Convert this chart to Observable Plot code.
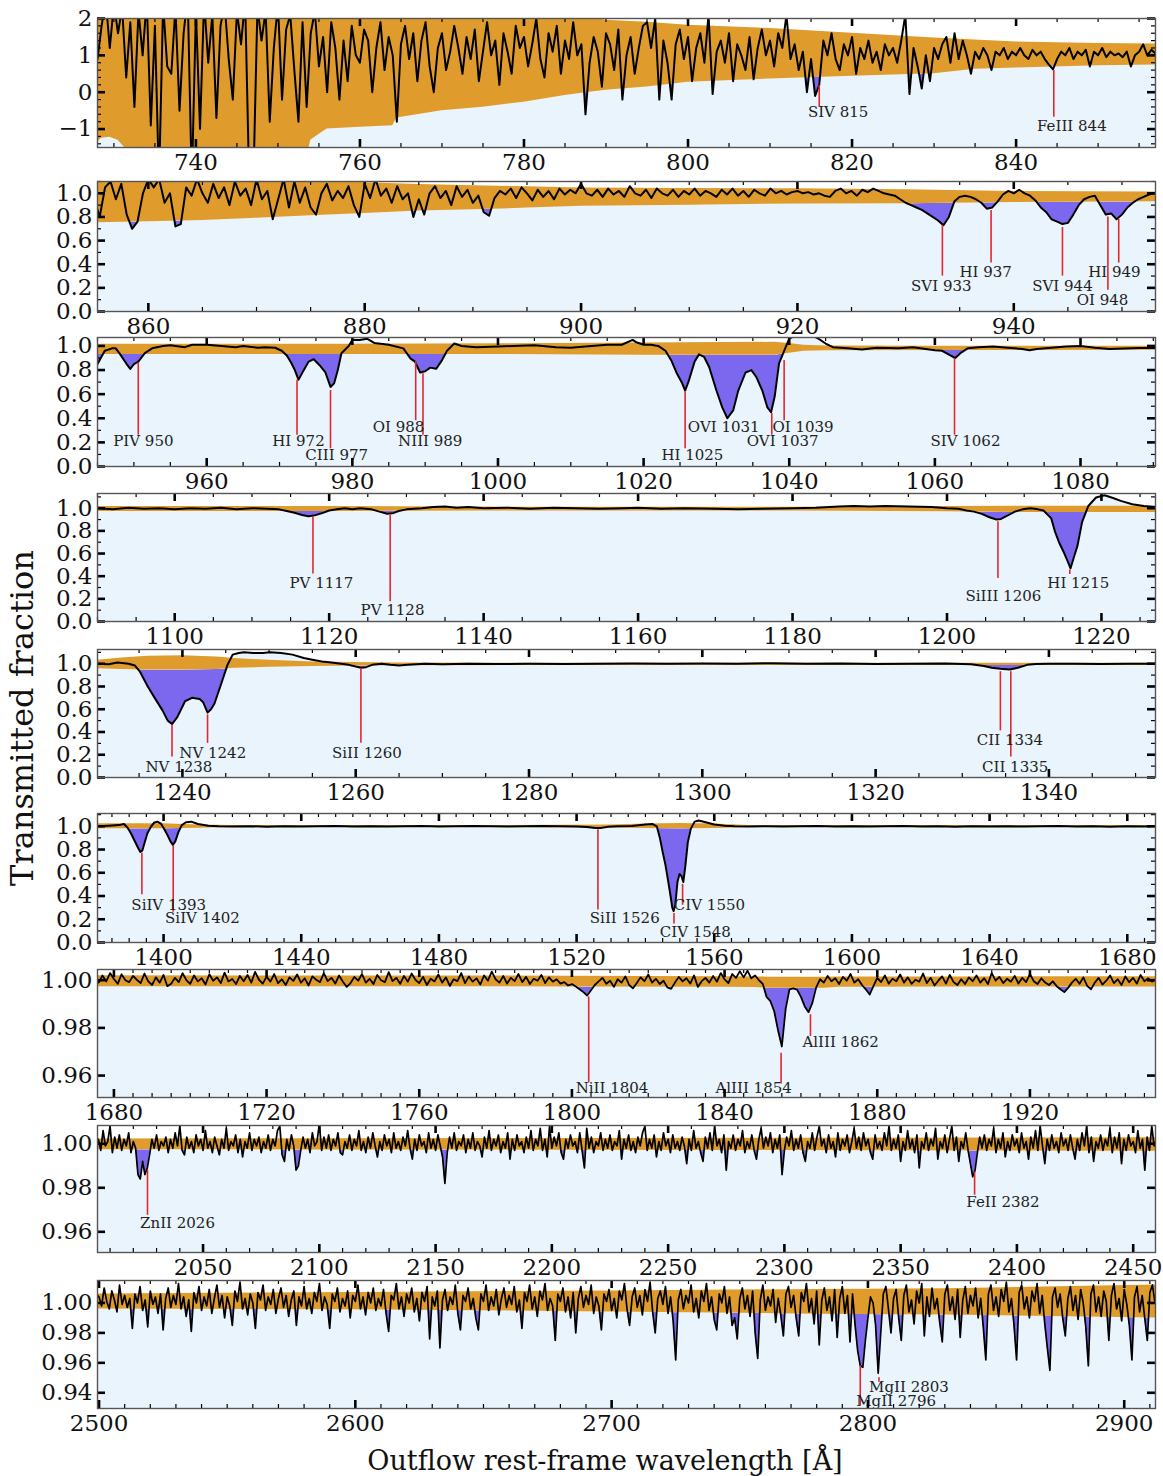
<!DOCTYPE html>
<html><head><meta charset="utf-8">
<script src="https://cdn.jsdelivr.net/npm/d3@7"></script>
<script src="https://cdn.jsdelivr.net/npm/@observablehq/plot@0.6"></script>
<style>
body{margin:0;background:#fff;}
#fig{position:relative;width:1163px;height:1476px;font-family:"DejaVu Serif",serif;overflow:hidden;background:#fff;}
.panel{position:absolute;left:0;}
#ylab{position:absolute;left:22px;top:718px;transform:translate(-50%,-50%) rotate(-90deg);font-size:32px;white-space:nowrap;color:#111;}
#xlab{position:absolute;left:605px;top:1460px;transform:translate(-50%,-50%);font-size:27px;white-space:nowrap;color:#111;}
</style></head>
<body><div id="fig"><div id="ylab">Transmitted fraction</div><div id="xlab">Outflow rest-frame wavelength [Å]</div></div>
<script>
// ---------------- DATA ----------------
// Panel 1: 728–857 Å, sampled every 0.5 Å
const p1Start = 728, p1Step = 0.5;
const p1Flux = [
0.9,1.8,2.5,1.2,2.4,1.6,2.3,0.4,1.9,-0.4,
2.2,1.0,2.5,-0.9,1.8,-2.5,2.4,0.7,0.5,2.3,
-0.5,1.6,2.6,-2.5,2.2,-1.0,2.5,0.8,2.1,-0.7,
1.8,2.4,0.9,-0.2,2.2,1.3,2.5,-2.5,-2.5,2.3,
1.4,2.2,-0.8,1.2,2.4,-0.2,1.7,2.1,0.6,-0.8,
1.9,-0.4,1.6,2.2,0.7,1.5,0.0,1.9,1.2,-0.2,
1.4,0.3,1.8,1.0,0.8,1.7,1.4,0.0,1.2,1.9,
0.6,1.5,1.0,-0.8,1.3,1.8,0.9,1.6,0.3,1.4,
1.9,0.7,0.0,1.2,1.6,0.6,1.1,1.8,1.2,0.5,
1.5,0.9,1.7,0.3,1.1,1.9,1.0,1.4,0.2,1.6,
1.1,0.5,1.8,1.2,1.5,0.7,1.3,2.0,0.9,0.4,
1.6,1.1,1.8,0.5,1.4,0.9,1.9,1.0,1.3,-0.6,
0.8,1.5,1.1,0.15,1.6,1.3,0.6,1.7,-0.2,1.0,
1.5,0.5,1.2,1.8,1.9,1.2,2.0,-0.2,1.4,0.8,
-0.2,1.3,1.7,0.9,1.5,0.3,1.2,1.6,0.8,2.1,
-0.05,1.1,1.4,0.8,1.6,0.3,1.3,1.0,0.6,1.5,
0.35,1.2,1.7,1.0,1.4,0.7,1.6,1.2,2.1,0.9,
1.3,0.6,1.1,0.0,0.9,-0.1,0.2,1.4,1.0,1.6,
0.9,0.6,1.3,1.0,1.5,0.5,1.2,0.9,1.4,0.8,
1.1,0.6,1.3,1.0,1.2,0.8,1.4,2.1,-0.05,1.2,
0.7,0.1,1.0,0.3,1.2,0.9,1.3,1.5,0.8,1.6,
0.9,1.4,1.0,0.5,1.1,0.9,1.2,1.0,0.6,1.1,
1.0,1.2,0.9,1.1,1.0,1.2,1.0,0.9,1.15,1.0,
1.1,0.9,0.75,0.62,0.9,1.1,1.0,1.2,0.9,1.1,
1.0,1.15,0.7,1.1,1.0,1.2,0.95,1.1,1.0,1.05,
0.95,1.1,0.7,1.0,1.1,1.3,1.0,1.15,1.05];
// [wavelength, lower edge, upper edge] of the orange band
const p1Band = [[728,-1.35,2.5],[728.5,-1.25,2.5],[729.5,-1.22,2.5],[730.5,-1.3,2.5],[731.3,-1.5,2.5],[731.8,-1.8,2.5],[753.5,-1.8,2.5],[754,-1.3,2.5],[755,-1.15,2.5],[756,-1.0,2.5],[760,-0.95,2.5],[764,-0.91,2.5],[764.5,-0.7,2.5],[770,-0.5,2.5],[775,-0.41,2.5],[780,-0.27,2.4],[785,-0.09,2.2],[788,0.0,2.05],[790,0.05,1.95],[795,0.14,1.9],[800,0.27,1.82],[810,0.36,1.73],[820,0.43,1.6],[830,0.5,1.47],[835,0.62,1.42],[840,0.66,1.36],[850,0.72,1.32],[857,0.74,1.31]];
const p1Labels = [
 {name:"SIV 815", w:816.0, top:0.18, bot:-0.41, tx:818.3, ty:-0.55},
 {name:"FeIII 844", w:844.6, top:0.59, bot:-0.68, tx:846.8, ty:-0.91}];
const p1XTicks = [740,760,780,800,820,840];
const p1YTicks = [-1,0,1,2];

// Panel 2: 855–953.5 Å, every 0.5 Å
const p2Start = 855.0, p2Step = 0.5;
const p2Flux = [
0.95,
0.80,1.05,1.10,0.95,1.08,0.82,0.70,0.76,1.0,1.12,
1.05,1.12,0.92,1.0,0.72,0.74,1.05,0.98,1.12,1.0,
0.92,1.08,0.96,1.05,0.9,1.1,0.98,1.04,0.9,1.12,
0.95,1.02,0.78,0.95,1.12,0.88,1.1,0.92,1.05,0.88,
0.82,1.0,1.08,0.94,1.02,0.96,1.06,0.9,0.80,1.08,
0.96,1.12,0.98,1.04,0.92,1.06,0.95,1.0,0.80,0.95,
0.82,1.0,1.06,0.96,1.02,0.9,1.06,0.97,1.03,0.92,
0.98,0.84,0.81,0.96,1.02,0.99,1.04,0.96,1.05,1.0,
0.94,1.03,0.97,1.02,0.95,1.04,0.99,1.03,1.0,1.08,
1.0,0.98,1.03,0.97,1.04,0.99,1.02,0.97,1.06,1.0,
0.98,1.03,0.96,1.04,1.0,0.98,1.03,0.97,1.02,0.99,
1.04,0.98,1.02,1.0,0.97,1.03,0.99,1.04,0.98,1.02,
0.97,1.03,1.0,0.98,1.04,1.0,1.02,0.99,1.01,1.02,
1.0,1.01,0.99,1.0,0.98,0.97,1.02,1.04,1.0,1.02,
0.98,1.03,1.01,1.04,1.02,1.0,0.99,0.98,0.95,0.92,
0.9,0.88,0.86,0.83,0.8,0.77,0.73,0.8,0.93,0.97,
0.98,0.97,0.95,0.92,0.87,0.88,0.93,0.99,1.02,1.0,
1.03,1.0,0.98,0.94,0.88,0.84,0.78,0.76,0.74,0.75,
0.82,0.9,0.95,0.97,0.98,0.9,0.82,0.83,0.78,0.82,
0.88,0.92,0.95,0.97,0.99,1.0,1.01];
const p2Band = [[855.0,0.75,1.2],[860,0.76,1.19],[865,0.77,1.17],[870,0.79,1.15],[875,0.81,1.12],[880,0.83,1.09],[885,0.85,1.075],[890,0.86,1.065],[895,0.875,1.055],[900,0.89,1.045],[910,0.9,1.04],[920,0.91,1.038],[930,0.912,1.03],[940,0.922,1.015],[953.5,0.928,1.01]];
const p2Labels = [
 {name:"SVI 933", w:933.4, top:0.728, bot:0.30, tx:933.3, ty:0.215},
 {name:"HI 937", w:937.9, top:0.855, bot:0.41, tx:937.4, ty:0.33},
 {name:"SVI 944", w:944.5, top:0.71, bot:0.30, tx:944.5, ty:0.215},
 {name:"OI 948", w:948.7, top:0.80, bot:0.18, tx:948.2, ty:0.095},
 {name:"HI 949", w:949.7, top:0.78, bot:0.41, tx:949.3, ty:0.33}];
const p2XTicks = [860,880,900,920,940];

// Panel 3: [wavelength, flux]
const p3Spec = [[945,0.85],[946,0.96],[947,0.98],[947.5,0.98],[948,0.94],[949,0.85],[949.5,0.81],[950,0.85],[950.6,0.87],[951.5,0.94],[952.5,0.98],[954,1.0],[955,1.005],[957,0.99],[958,1.01],[960,1.01],[962,1.0],[964,0.99],[965,1.0],[967,0.985],[968,0.99],[969.4,0.985],[970.3,0.96],[971,0.92],[971.6,0.86],[972.1,0.8],[972.6,0.72],[973.2,0.785],[974,0.87],[974.7,0.89],[975.5,0.84],[976.3,0.78],[977,0.66],[977.5,0.69],[978,0.8],[978.5,0.94],[979.5,1.0],[980,1.05],[981,1.05],[982,1.06],[983,1.025],[985,1.01],[987,0.98],[988,0.895],[988.6,0.87],[989.3,0.78],[990,0.79],[990.7,0.82],[991.5,0.81],[992.3,0.88],[993,0.96],[994,1.02],[995,1.0],[997,0.99],[1000,0.995],[1002,1.0],[1005,1.005],[1008,0.99],[1010,0.985],[1012,0.995],[1015,1.01],[1017,1.01],[1018.5,1.05],[1019,1.03],[1020,1.01],[1021,1.01],[1022,1.0],[1023,0.96],[1023.8,0.88],[1024.5,0.78],[1025.3,0.69],[1025.7,0.63],[1026.2,0.71],[1027,0.87],[1027.6,0.93],[1028.3,0.91],[1029,0.825],[1030,0.63],[1030.8,0.49],[1031.5,0.4],[1032.3,0.465],[1033,0.63],[1034,0.78],[1034.8,0.8],[1035.5,0.74],[1036.3,0.63],[1037,0.49],[1037.5,0.45],[1038,0.58],[1038.6,0.855],[1039.3,0.96],[1040,1.06],[1041,1.09],[1043,1.09],[1044,1.06],[1045,1.02],[1046,0.99],[1048,0.98],[1050,0.97],[1052,0.985],[1055,0.98],[1057,0.99],[1060,0.965],[1061,0.96],[1062,0.925],[1062.8,0.9],[1063.5,0.94],[1064.5,0.98],[1066,0.99],[1068,0.995],[1070,0.985],[1072,0.975],[1073,0.965],[1074,0.975],[1076,0.985],[1078,0.995],[1080,1.0],[1082,0.985],[1084,0.975],[1086,0.978],[1088,0.982],[1090.3,0.982]];
const p3Band = [[945,0.93,1.015],[960,0.93,1.015],[980,0.93,1.015],[1000,0.93,1.018],[1020,0.922,1.025],[1038,0.922,1.03],[1040,0.94,1.02],[1042,0.955,1.005],[1045,0.96,1.0],[1060,0.962,0.998],[1090.3,0.965,0.998]];
const p3Labels = [
 {name:"PIV 950", w:950.6, top:0.86, bot:0.26, tx:951.3, ty:0.21},
 {name:"HI 972", w:972.4, top:0.715, bot:0.26, tx:972.6, ty:0.21},
 {name:"CIII 977", w:977.0, top:0.63, bot:0.147, tx:977.85, ty:0.092},
 {name:"OI 988", w:988.7, top:0.87, bot:0.38, tx:986.35, ty:0.328},
 {name:"NIII 989", w:989.7, top:0.77, bot:0.26, tx:990.7, ty:0.21},
 {name:"HI 1025", w:1025.7, top:0.62, bot:0.147, tx:1026.7, ty:0.092},
 {name:"OVI 1031", w:1031.5, top:0.39, bot:0.39, tx:1031.0, ty:0.328},
 {name:"OVI 1037", w:1037.6, top:0.44, bot:0.26, tx:1039.1, ty:0.21},
 {name:"OI 1039", w:1039.3, top:0.88, bot:0.38, tx:1041.9, ty:0.328},
 {name:"SIV 1062", w:1062.7, top:0.895, bot:0.26, tx:1064.2, ty:0.21}];
const p3XTicks = [960,980,1000,1020,1040,1060,1080];

// Panel 4
const p4Spec = [[1090,1.0],[1092,0.99],[1094,1.005],[1096,0.995],[1098,1.0],[1100,0.99],[1102,1.0],[1104,0.995],[1106,1.005],[1108,0.99],[1110,1.0],[1112,0.995],[1113.5,0.99],[1114.5,0.975],[1115.5,0.96],[1116.5,0.94],[1117.3,0.93],[1118,0.935],[1119,0.955],[1120,0.98],[1121,0.99],[1122,1.0],[1123,0.99],[1124,1.0],[1125.5,0.99],[1126.5,0.97],[1127.5,0.952],[1128.2,0.955],[1129,0.975],[1130,0.99],[1132,1.0],[1133.5,1.01],[1135,1.015],[1136.5,1.005],[1138,1.01],[1140,1.0],[1143,1.005],[1146,0.995],[1149,1.005],[1152,1.0],[1155,0.995],[1158,1.0],[1160,1.005],[1163,0.995],[1166,1.0],[1170,0.995],[1173,0.99],[1176,0.995],[1180,1.0],[1183,1.005],[1186,1.015],[1188,1.02],[1190,1.015],[1192,1.02],[1195,1.015],[1198,1.01],[1200,1.0],[1201.5,0.995],[1202.5,0.98],[1203.5,0.97],[1204.5,0.95],[1205.5,0.92],[1206.4,0.9],[1207,0.905],[1207.8,0.935],[1208.8,0.97],[1209.8,0.99],[1210.8,1.0],[1211.8,0.99],[1212.5,0.98],[1213.5,0.91],[1214,0.79],[1214.5,0.7],[1215.2,0.6],[1215.7,0.52],[1216,0.47],[1216.4,0.56],[1216.9,0.67],[1217.5,0.88],[1218.3,1.02],[1219.3,1.095],[1220.4,1.115],[1221.5,1.09],[1222.5,1.065],[1224,1.035],[1225.5,1.02],[1227,1.01]];
const p4Band = [[1090,0.972,1.015],[1120,0.972,1.015],[1140,0.975,1.01],[1160,0.976,1.008],[1180,0.976,1.008],[1200,0.968,1.015],[1210,0.962,1.018],[1227,0.962,1.018]];
const p4Labels = [
 {name:"PV 1117", w:1117.9, top:0.92, bot:0.42, tx:1119.0, ty:0.336},
 {name:"PV 1128", w:1127.9, top:0.94, bot:0.175, tx:1128.2, ty:0.097},
 {name:"SiIII 1206", w:1206.6, top:0.88, bot:0.38, tx:1207.3, ty:0.225},
 {name:"HI 1215", w:1215.9, top:0.455, bot:0.415, tx:1217.0, ty:0.336}];
const p4XTicks = [1100,1120,1140,1160,1180,1200,1220];

// Panel 5
const p5Spec = [[1230.2,1.0],[1231.5,0.995],[1232.5,1.01],[1233.8,1.0],[1234.5,0.985],[1235.1,0.93],[1236,0.8],[1236.8,0.7],[1237.7,0.59],[1238.3,0.5],[1238.8,0.47],[1239.4,0.53],[1240.3,0.67],[1241.1,0.7],[1241.6,0.695],[1242,0.69],[1242.4,0.66],[1242.9,0.57],[1243.3,0.6],[1243.7,0.65],[1244.5,0.83],[1245.2,0.99],[1245.8,1.08],[1246.5,1.095],[1247.1,1.1],[1248.2,1.095],[1249.3,1.095],[1250.1,1.1],[1251.4,1.095],[1252.7,1.08],[1254,1.05],[1255,1.035],[1256.1,1.02],[1257.2,1.01],[1258.3,1.0],[1259.2,0.99],[1260,0.975],[1260.6,0.965],[1261.2,0.97],[1261.9,0.99],[1263,1.0],[1264,0.99],[1265,0.985],[1266,0.99],[1268,1.0],[1270,0.995],[1273,1.0],[1276,0.997],[1280,1.0],[1284,0.997],[1288,1.0],[1292,1.003],[1296,1.0],[1300,1.003],[1304,1.0],[1308,1.005],[1312,1.0],[1316,1.003],[1320,0.998],[1324,1.0],[1328,1.002],[1331,0.995],[1332.5,0.98],[1333.4,0.965],[1334.4,0.955],[1335.5,0.95],[1336.4,0.965],[1337.5,0.99],[1338.5,0.998],[1340,1.0],[1343,1.0],[1346,0.998],[1349,1.0],[1352.3,1.0]];
const p5Band = [[1230.2,0.955,1.03],[1233,0.95,1.05],[1236,0.945,1.065],[1240,0.945,1.07],[1244,0.95,1.06],[1246,0.96,1.045],[1250,0.968,1.03],[1255,0.975,1.015],[1260,0.98,1.01],[1265,0.983,1.006],[1280,0.984,1.005],[1352.3,0.984,1.005]];
const p5Labels = [
 {name:"NV 1238", w:1238.8, top:0.46, bot:0.18, tx:1239.6, ty:0.088},
 {name:"NV 1242", w:1242.9, top:0.55, bot:0.30, tx:1243.5, ty:0.21},
 {name:"SiII 1260", w:1260.6, top:0.955, bot:0.30, tx:1261.3, ty:0.21},
 {name:"CII 1334", w:1334.4, top:0.93, bot:0.41, tx:1335.5, ty:0.325},
 {name:"CII 1335", w:1335.6, top:0.93, bot:0.18, tx:1336.1, ty:0.088}];
const p5XTicks = [1240,1260,1280,1300,1320,1340];

// Panel 6
const p6Spec = [[1380.8,1.0],[1384,1.005],[1387,1.01],[1388.5,1.02],[1389.5,0.99],[1390.5,0.94],[1391.5,0.88],[1392.5,0.82],[1393.2,0.78],[1393.8,0.79],[1394.5,0.86],[1395.3,0.94],[1396.2,0.99],[1397.2,1.03],[1398.2,1.04],[1399.3,1.02],[1400.3,0.97],[1401.2,0.92],[1402,0.87],[1402.7,0.84],[1403.4,0.87],[1404.3,0.95],[1405.3,1.01],[1406.5,1.035],[1408,1.04],[1410,1.02],[1413,1.005],[1416,1.0],[1420,0.998],[1425,1.0],[1430,0.997],[1435,1.0],[1440,0.998],[1445,1.0],[1450,1.002],[1455,0.998],[1460,1.0],[1465,0.998],[1470,1.0],[1475,1.002],[1480,0.998],[1485,1.0],[1490,1.002],[1495,1.0],[1500,0.998],[1505,1.0],[1510,1.002],[1515,1.0],[1520,0.998],[1523,0.993],[1525.5,0.985],[1527,0.986],[1529,0.995],[1532,1.0],[1536,1.003],[1540,1.015],[1542,1.02],[1543.3,1.0],[1544.2,0.9],[1545,0.78],[1545.8,0.67],[1546.6,0.53],[1547.3,0.4],[1547.8,0.3],[1548.2,0.27],[1548.7,0.33],[1549.3,0.52],[1549.9,0.59],[1550.5,0.57],[1551,0.52],[1551.6,0.66],[1552.3,0.86],[1553.2,0.98],[1554.3,1.04],[1555.5,1.05],[1557.5,1.035],[1560,1.015],[1563,1.005],[1566,1.0],[1570,0.998],[1575,1.0],[1580,0.998],[1585,1.0],[1590,1.002],[1595,0.998],[1600,1.0],[1605,0.998],[1610,1.0],[1615,1.002],[1620,0.998],[1625,1.0],[1630,0.997],[1635,1.0],[1640,0.998],[1645,1.0],[1650,0.998],[1655,1.0],[1660,1.002],[1665,0.998],[1670,1.0],[1675,0.997],[1680,1.0],[1685,0.998],[1688.2,1.0]];
const p6Band = [[1380.8,0.978,1.022],[1400,0.978,1.022],[1410,0.984,1.012],[1420,0.99,1.006],[1500,0.99,1.006],[1530,0.986,1.01],[1540,0.98,1.02],[1550,0.978,1.025],[1560,0.98,1.02],[1570,0.99,1.006],[1688.2,0.99,1.006]];
const p6Labels = [
 {name:"SiIV 1393", w:1393.7, top:0.77, bot:0.41, tx:1401.5, ty:0.325},
 {name:"SiIV 1402", w:1402.8, top:0.83, bot:0.26, tx:1411.3, ty:0.205},
 {name:"SiII 1526", w:1526.2, top:0.97, bot:0.28, tx:1534.0, ty:0.205},
 {name:"CIV 1548", w:1548.3, top:0.25, bot:0.16, tx:1554.5, ty:0.085},
 {name:"CIV 1550", w:1550.8, top:0.5, bot:0.32, tx:1558.6, ty:0.325}];
const p6XTicks = [1400,1440,1480,1520,1560,1600,1640,1680];

// Panel 7: 1675–1953 Å, every 1 Å
const p7Start = 1675, p7Step = 1;
const p7Flux = [
1.0010,
0.9990,1.0020,0.9995,1.0030,1.0005,0.9985,1.0025,1.0000,0.9992,1.0018,
1.0002,0.9988,1.0028,0.9995,0.9980,1.0012,0.9990,1.0022,0.9975,0.9985,
1.0010,0.9992,1.0030,1.0000,0.9985,1.0020,0.9995,1.0008,0.9982,1.0025,
0.9998,1.0012,0.9988,1.0032,0.9995,1.0005,0.9984,1.0018,0.9996,1.0022,
0.9990,1.0035,1.0002,0.9986,1.0015,0.9994,1.0026,0.9988,1.0004,0.9980,
1.0012,0.9997,1.0024,0.9990,1.0008,0.9978,1.0016,1.0002,0.9992,1.0030,
0.9996,1.0010,0.9986,1.0020,0.9994,0.9972,0.9988,1.0014,0.9998,1.0026,
0.9990,1.0006,0.9984,1.0022,1.0000,0.9992,1.0034,0.9996,1.0010,0.9985,
1.0018,0.9994,1.0028,1.0002,0.9988,1.0014,0.9980,1.0006,0.9995,1.0024,
0.9990,1.0012,0.9976,1.0004,0.9996,1.0030,0.9988,1.0016,0.9994,1.0008,
0.9982,1.0020,0.9998,1.0036,1.0004,0.9990,1.0018,0.9986,1.0010,0.9996,
1.0026,0.9992,1.0014,0.9984,1.0006,0.9998,1.0022,0.9988,1.0012,0.9994,
1.0004,0.9986,0.9992,0.9978,0.9984,0.9974,0.9962,0.9950,0.9936,0.9958,
0.9980,0.9995,1.0010,0.9985,0.9998,0.9972,1.0004,0.9990,1.0016,0.9980,
0.9966,0.9988,1.0012,0.9996,1.0024,0.9990,1.0006,0.9984,0.9998,0.9970,
0.9964,0.9990,1.0014,0.9995,1.0008,0.9986,1.0020,0.9972,0.9996,1.0010,
0.9990,1.0018,0.9994,1.0030,1.0004,0.9988,1.0026,1.0010,1.0038,1.0012,
1.0040,1.0008,1.0020,1.0000,0.9985,0.9930,0.9912,0.9870,0.9790,0.9722,
0.9880,0.9962,0.9966,0.9960,0.9930,0.9890,0.9866,0.9905,0.9970,1.0004,
0.9990,1.0018,0.9996,1.0008,0.9984,1.0014,0.9998,1.0026,0.9990,1.0004,
0.9980,0.9962,0.9940,0.9975,1.0010,0.9992,1.0020,0.9986,1.0006,0.9996,
1.0024,0.9990,1.0012,0.9985,1.0002,0.9994,1.0028,0.9988,1.0010,0.9978,
0.9998,1.0016,0.9986,1.0022,0.9992,0.9980,1.0004,0.9984,1.0012,0.9996,
1.0020,0.9990,1.0008,0.9984,1.0030,0.9998,1.0014,0.9988,1.0006,0.9994,
1.0018,0.9986,1.0010,0.9992,1.0026,0.9996,0.9984,1.0008,0.9990,0.9980,
0.9995,0.9975,0.9962,0.9950,0.9968,0.9990,1.0006,0.9985,1.0012,0.9976,
0.9962,0.9990,1.0010,0.9982,0.9998,1.0020,0.9988,1.0004,0.9980,1.0016,
0.9992,1.0010,0.9986,1.0022,0.9996,1.0008,0.9994,1.0004];
const p7Band = [[1675,0.9973,1.0019],[1720,0.9973,1.0018],[1760,0.9973,1.0018],[1800,0.9972,1.0017],[1840,0.9971,1.0015],[1848,0.9969,1.0014],[1852,0.9966,1.0013],[1866,0.9966,1.0013],[1870,0.9971,1.0014],[1900,0.9972,1.0014],[1953,0.9972,1.0015]];
const p7Labels = [
 {name:"NiII 1804", w:1804.4, top:0.993, bot:0.957, tx:1810.5, ty:0.9546},
 {name:"AlIII 1854", w:1854.8, top:0.9694, bot:0.9565, tx:1847.6, ty:0.9546},
 {name:"AlIII 1862", w:1862.5, top:0.9855, bot:0.9764, tx:1870.4, ty:0.9742}];
const p7XTicks = [1680,1720,1760,1800,1840,1880,1920];
const p7YTicks = [0.96,0.98,1.00];

// Panel 8: 2004–2460 Å, every 1 Å
const p8Start = 2004, p8Step = 1;
const p8Flux = [
1.001,
1.002,0.997,1.006,0.999,1.001,1.008,0.996,1.003,0.998,1.004,
0.997,1.002,0.999,1.005,0.996,1.001,0.998,0.986,0.984,0.992,
0.986,0.989,0.995,1.002,0.998,1.004,0.997,1.001,0.999,1.003,
0.996,1.002,0.998,1.005,0.999,1.008,0.997,0.995,1.003,0.998,
1.001,0.996,1.004,0.999,1.002,0.997,1.006,0.998,1.001,0.996,
1.003,0.999,0.995,1.002,0.998,1.007,0.997,1.001,0.999,1.004,
0.996,1.002,0.994,1.001,0.998,1.005,0.997,1.002,0.999,1.003,
0.996,1.001,0.998,1.004,0.997,1.002,0.999,1.006,1.008,0.995,
0.992,1.002,0.997,1.004,0.999,0.988,0.990,0.997,1.003,0.998,
1.002,0.996,1.005,0.999,1.001,1.009,0.997,1.003,0.998,1.004,
0.997,1.002,0.999,1.005,0.996,0.995,1.001,0.998,1.004,0.997,
1.002,0.999,1.006,0.997,1.001,0.996,1.003,0.998,1.005,0.999,
0.994,1.001,0.997,1.004,0.999,1.002,0.996,1.005,0.998,1.001,
0.997,1.003,0.999,1.006,0.998,0.993,1.002,0.997,1.004,0.999,
1.001,0.996,1.005,0.998,1.002,0.997,1.004,0.999,0.994,0.982,
0.996,1.003,0.998,1.005,0.997,1.001,0.999,1.004,0.996,1.002,
0.998,1.005,0.997,1.001,0.999,0.994,1.003,0.998,1.006,0.997,
1.002,0.999,1.004,0.996,1.001,0.998,1.005,0.993,1.002,0.997,
1.004,0.999,1.001,0.996,1.003,0.998,1.006,0.997,1.002,0.999,
1.007,0.997,1.002,0.994,1.008,0.998,1.003,0.999,1.005,0.996,
0.993,1.002,0.998,1.004,0.999,1.001,0.996,1.005,0.997,0.989,
1.007,0.998,1.003,0.996,1.001,0.999,1.005,0.997,1.002,0.998,
1.004,0.997,1.001,0.999,1.006,0.993,1.002,0.998,1.004,0.997,
1.001,0.996,1.003,0.999,1.005,1.008,0.997,1.002,0.998,1.004,
0.994,1.001,0.997,1.005,0.999,1.002,0.996,1.004,0.998,1.001,
0.997,1.003,0.999,0.991,1.002,0.997,1.006,0.998,1.001,0.996,
0.992,1.003,0.998,1.005,0.997,1.008,0.999,1.002,0.996,1.004,
0.988,1.001,0.998,1.004,0.997,1.002,0.999,1.006,0.996,1.001,
0.998,1.004,0.997,0.993,1.002,1.007,0.998,1.003,0.999,1.005,
0.996,1.002,0.998,1.004,0.986,0.997,1.003,0.999,1.006,0.997,
1.002,0.998,1.004,0.996,0.992,1.001,0.998,1.005,0.997,1.003,
1.008,0.999,1.002,0.996,1.004,0.998,1.001,0.994,1.005,0.997,
1.002,0.999,1.004,0.996,1.001,1.007,0.998,1.003,0.997,1.005,
0.999,1.002,0.996,0.993,1.004,0.998,1.001,0.997,1.005,0.999,
1.008,0.997,1.002,0.998,1.004,0.992,1.001,0.997,1.006,0.998,
1.002,0.996,1.004,0.989,1.001,0.998,1.005,0.997,1.002,0.999,
1.007,0.993,1.001,0.998,1.004,0.996,1.002,1.008,0.997,1.003,
0.992,1.001,0.998,1.005,0.997,0.991,0.985,0.988,0.996,1.003,
0.998,1.004,0.997,1.002,0.999,1.007,0.996,1.002,0.998,1.005,
0.994,1.001,0.997,1.004,0.999,1.002,0.996,1.005,0.998,1.001,
0.993,1.003,0.998,1.006,0.997,1.008,0.999,0.991,1.002,0.997,
1.004,0.998,1.001,0.996,1.005,0.999,1.002,0.997,1.004,0.998,
0.993,1.002,0.997,1.005,0.999,1.008,0.996,1.003,0.992,1.001,
0.998,1.004,0.997,1.002,0.999,1.007,0.996,1.003,0.998,1.005,
0.991,1.002,0.997,1.004,0.999,1.001,0.996,1.006,0.998,1.002,
0.988,1.003,0.997,1.008,0.999,1.002];
const p8Band = [[2004,0.9973,1.0022],[2100,0.9972,1.0023],[2200,0.9971,1.0024],[2300,0.9969,1.0025],[2400,0.9967,1.0026],[2460,0.9966,1.0027]];
const p8Labels = [
 {name:"ZnII 2026", w:2026.1, top:0.988, bot:0.9675, tx:2039.0, ty:0.9638},
 {name:"FeII 2382", w:2381.8, top:0.987, bot:0.9766, tx:2394.0, ty:0.9733}];
const p8XTicks = [2050,2100,2150,2200,2250,2300,2350,2400,2450];
const p8YTicks = [0.96,0.98,1.00];

// Panel 9: 2499–2913 Å, every 1 Å
const p9Start = 2499, p9Step = 1;
const p9Flux = [
1.006,
1.004,0.998,1.010,1.001,0.996,1.008,1.002,0.994,1.012,0.999,
1.005,0.997,1.003,0.983,1.006,1.000,1.011,0.995,1.002,0.984,
1.008,0.999,1.004,0.993,1.006,0.982,1.003,1.010,0.997,1.005,
0.999,1.013,0.996,1.004,0.991,1.002,0.981,1.007,1.000,1.011,
0.995,1.004,0.998,1.009,0.993,1.003,1.012,0.997,1.005,0.990,
1.004,0.998,0.985,1.008,1.001,1.014,0.996,1.003,0.992,1.006,
1.000,0.983,1.007,1.002,1.012,0.995,1.004,0.999,1.009,0.993,
1.003,1.010,0.997,1.005,0.991,1.002,1.008,0.985,1.004,0.998,
1.011,0.996,1.003,0.993,1.007,1.001,1.013,0.995,1.004,0.999,
0.983,1.006,1.001,1.010,0.994,1.003,0.998,1.008,0.990,1.005,
1.001,1.012,0.996,1.004,0.992,1.007,1.000,1.010,0.995,1.003,
0.998,1.009,0.993,0.981,1.005,1.002,1.013,0.996,1.004,0.991,
1.006,1.000,1.010,0.994,1.003,0.988,1.007,1.001,1.011,0.976,
1.004,0.998,1.008,0.970,1.002,1.009,0.995,1.004,0.999,1.012,
0.993,0.982,1.005,1.001,1.010,0.996,1.003,0.990,0.982,1.006,
1.001,1.012,0.995,1.004,0.998,1.009,0.992,1.003,1.010,0.997,
1.005,0.999,1.011,0.994,1.002,0.983,1.007,1.001,1.012,0.996,
1.004,0.991,1.008,1.002,1.013,0.995,1.003,0.998,0.975,1.006,
1.001,1.010,0.994,1.004,0.990,1.007,0.980,1.003,1.011,0.997,
1.005,0.999,1.012,0.993,1.004,0.998,0.982,1.006,1.001,1.009,
0.995,1.003,0.990,1.008,1.002,1.013,0.996,0.985,1.004,1.010,
0.997,1.005,0.992,1.009,1.001,1.014,0.994,0.980,1.003,1.008,
0.999,1.011,0.993,1.004,0.988,0.962,1.002,1.009,0.996,1.005,
1.000,1.012,0.994,1.003,0.990,1.008,1.001,1.013,0.995,1.004,
0.989,0.982,1.006,1.000,1.011,0.993,1.004,0.985,0.990,0.976,
1.003,1.010,0.996,1.005,0.991,1.008,0.980,0.963,1.002,1.012,
0.995,1.004,0.998,1.009,0.987,1.003,0.992,0.978,1.006,1.011,
0.997,1.005,0.990,0.978,1.007,1.001,1.013,0.994,1.003,0.986,
1.008,0.972,1.002,1.010,0.995,1.004,0.988,1.009,0.977,1.003,
1.011,0.993,1.005,0.974,1.006,0.985,0.968,0.958,0.957,0.975,
0.990,1.004,1.000,0.985,0.953,0.980,1.006,1.011,0.996,0.980,
1.003,1.009,0.990,0.975,1.005,1.012,0.994,1.002,0.986,1.008,
1.000,1.013,0.978,1.004,0.991,1.010,0.996,1.003,0.987,0.974,
1.006,1.012,0.995,1.004,0.989,1.009,0.977,1.002,1.011,0.993,
1.005,0.998,1.010,0.990,1.003,0.984,0.962,1.006,1.012,0.995,
1.004,0.991,1.009,1.001,1.014,0.994,1.003,0.985,0.962,1.007,
1.012,0.996,1.004,0.990,1.008,1.001,1.013,0.993,1.005,0.986,
0.970,0.955,1.004,1.010,0.997,1.006,0.990,0.978,1.003,1.011,
0.995,1.005,0.989,1.009,1.000,0.984,0.958,1.006,1.012,0.994,
1.004,0.991,1.008,1.001,0.975,1.005,1.013,0.996,1.003,0.988,
1.009,0.999,0.985,0.962,1.004,1.011,0.994,1.005,0.990,0.975,
1.007,1.012,1.000,1.004];
const p9Band = [[2499,0.996,1.006],[2600,0.9955,1.007],[2700,0.994,1.008],[2780,0.9925,1.009],[2830,0.992,1.0095],[2913,0.990,1.012]];
const p9Labels = [
 {name:"MgII 2796", w:2797.0, top:0.958, bot:0.9315, tx:2811.0, ty:0.9345},
 {name:"MgII 2803", w:2804.3, top:0.95, bot:0.947, tx:2816.0, ty:0.9440}];
const p9XTicks = [2500,2600,2700,2800,2900];
const p9YTicks = [0.94,0.96,0.98,1.00];

const fracYTicks = [0,0.2,0.4,0.6,0.8,1.0];

// ---------------- DRAWING ----------------
const PURPLE = "#7b68ee", ORANGE = "#df9c2c", LIGHT = "#e9f4fc", RED = "#e3262f";
const W = 1163, ML = 97, MR = 8, MT = 4, MB = 32;

const gridPts = (start, step, vals) => vals.map((f, i) => [start + i * step, f]);
function minorTicks(lo, hi, step, majors) {
  const out = [];
  for (let k = Math.ceil(lo / step - 1e-9); k * step <= hi + 1e-9; k++) {
    const v = +(k * step).toFixed(6);
    if (!majors.some(m => Math.abs(m - v) < step * 1e-3)) out.push(v);
  }
  return out;
}
const fmt0 = d => d < 0 ? "\u2212" + Math.abs(d) : String(d);
const fmt1 = d => d.toFixed(1);
const fmt2 = d => d.toFixed(2);

const panels = [
  {x:[728,857], y:[-1.5,2], top:18, bottom:147, spec:gridPts(p1Start,p1Step,p1Flux), band:p1Band, labels:p1Labels, xt:p1XTicks, xm:5, yt:p1YTicks, ym:0.2, fmt:fmt0, lw:2},
  {x:[855.3,953.1], y:[0,1.1], top:181, bottom:311, spec:gridPts(p2Start,p2Step,p2Flux), band:p2Band, labels:p2Labels, xt:p2XTicks, xm:5, yt:fracYTicks, ym:0.1, fmt:fmt1, lw:2},
  {x:[945.0,1090.3], y:[0,1.07], top:337, bottom:466, spec:p3Spec, band:p3Band, labels:p3Labels, xt:p3XTicks, xm:5, yt:fracYTicks, ym:0.1, fmt:fmt1, lw:2},
  {x:[1090.0,1227.0], y:[0,1.13], top:493, bottom:621, spec:p4Spec, band:p4Band, labels:p4Labels, xt:p4XTicks, xm:5, yt:fracYTicks, ym:0.1, fmt:fmt1, lw:2},
  {x:[1230.2,1352.3], y:[0,1.125], top:649, bottom:777, spec:p5Spec, band:p5Band, labels:p5Labels, xt:p5XTicks, xm:5, yt:fracYTicks, ym:0.1, fmt:fmt1, lw:2},
  {x:[1380.8,1688.2], y:[0,1.11], top:813, bottom:942, spec:p6Spec, band:p6Band, labels:p6Labels, xt:p6XTicks, xm:5, yt:fracYTicks, ym:0.1, fmt:fmt1, lw:2},
  {x:[1675.7,1952.9], y:[0.9508,1.0045], top:969, bottom:1097, spec:gridPts(p7Start,p7Step,p7Flux), band:p7Band, labels:p7Labels, xt:p7XTicks, xm:5, yt:p7YTicks, ym:0, fmt:fmt2, lw:1.8},
  {x:[2004.6,2459.6], y:[0.9506,1.0083], top:1125, bottom:1252, spec:gridPts(p8Start,p8Step,p8Flux), band:p8Band, labels:p8Labels, xt:p8XTicks, xm:10, yt:p8YTicks, ym:0, fmt:fmt2, lw:1.7},
  {x:[2499.4,2912.2], y:[0.9295,1.015], top:1280, bottom:1408, spec:gridPts(p9Start,p9Step,p9Flux), band:p9Band, labels:p9Labels, xt:p9XTicks, xm:10, yt:p9YTicks, ym:0, fmt:fmt2, lw:1.7}
];

const fig = document.getElementById("fig");
panels.forEach((p, idx) => {
  const H = p.bottom - p.top;
  const PW = W - ML - MR;
  const [y0, y1] = p.y;
  const spec = p.spec.map(([w, f]) => ({w, f}));
  const band = p.band.map(([w, lo, hi]) => ({w, lo, hi}));
  const xMinor = minorTicks(p.x[0], p.x[1], p.xm, p.xt);
  const yMinor = p.ym ? minorTicks(y0, y1, p.ym, p.yt) : [];
  const chart = Plot.plot({
    width: W, height: H + MT + MB,
    marginLeft: ML, marginRight: MR, marginTop: MT, marginBottom: MB,
    x: {domain: p.x}, y: {domain: p.y},
    style: {background: "none", fontFamily: "'DejaVu Serif', serif", overflow: "visible", color: "#111"},
    marks: [
      Plot.areaY(band, {x: "w", y1: () => y0, y2: "lo", fill: PURPLE}),
      Plot.areaY(band, {x: "w", y1: "lo", y2: () => y1, fill: "#ffffff"}),
      Plot.areaY(spec, {x: "w", y1: () => y0, y2: "f", fill: LIGHT}),
      Plot.areaY(band, {x: "w", y1: "lo", y2: "hi", fill: ORANGE}),
      Plot.line(spec, {x: "w", y: "f", stroke: "#000", strokeWidth: p.lw, strokeLinejoin: "round"}),
      Plot.ruleX(p.labels, {x: "w", y1: "top", y2: "bot", stroke: RED, strokeWidth: 1.6}),
      Plot.text(p.labels, {x: "tx", y: "ty", text: "name", fontSize: 15, fill: "#222", fontFamily: "'DejaVu Serif', serif"}),
      Plot.tickX(p.xt, {x: d => d, stroke: "#000", strokeWidth: 2.6, insetTop: H - 8}),
      Plot.tickX(p.xt, {x: d => d, stroke: "#000", strokeWidth: 2.6, insetBottom: H - 8}),
      Plot.tickX(xMinor, {x: d => d, stroke: "#000", strokeWidth: 1.2, insetTop: H - 4}),
      Plot.tickX(xMinor, {x: d => d, stroke: "#000", strokeWidth: 1.2, insetBottom: H - 4}),
      Plot.tickY(p.yt, {y: d => d, stroke: "#000", strokeWidth: 2.6, insetRight: PW - 8}),
      Plot.tickY(p.yt, {y: d => d, stroke: "#000", strokeWidth: 2.6, insetLeft: PW - 8}),
      Plot.tickY(yMinor, {y: d => d, stroke: "#000", strokeWidth: 1.2, insetRight: PW - 4}),
      Plot.tickY(yMinor, {y: d => d, stroke: "#000", strokeWidth: 1.2, insetLeft: PW - 4}),
      Plot.frame({stroke: "#555", strokeWidth: 1.4}),
      Plot.axisX({ticks: p.xt, tickSize: 0, tickPadding: 6, fontSize: 23, tickFormat: d => String(d), label: null}),
      Plot.axisY({ticks: p.yt, tickSize: 0, tickPadding: 5, fontSize: 23, tickFormat: p.fmt, label: null})
    ]
  });
  // clip the data marks to the plotting frame
  const svg = d3.select(chart);
  const id = "clipP" + idx;
  svg.insert("defs", ":first-child").append("clipPath").attr("id", id)
    .append("rect").attr("x", ML).attr("y", MT).attr("width", PW).attr("height", H);
  svg.selectAll('g[aria-label="area"], g[aria-label="line"]').attr("clip-path", `url(#${id})`);
  chart.classList.add("panel");
  chart.style.position = "absolute";
  chart.style.left = "0px";
  chart.style.top = (p.top - MT) + "px";
  fig.appendChild(chart);
});
</script>
</body></html>
